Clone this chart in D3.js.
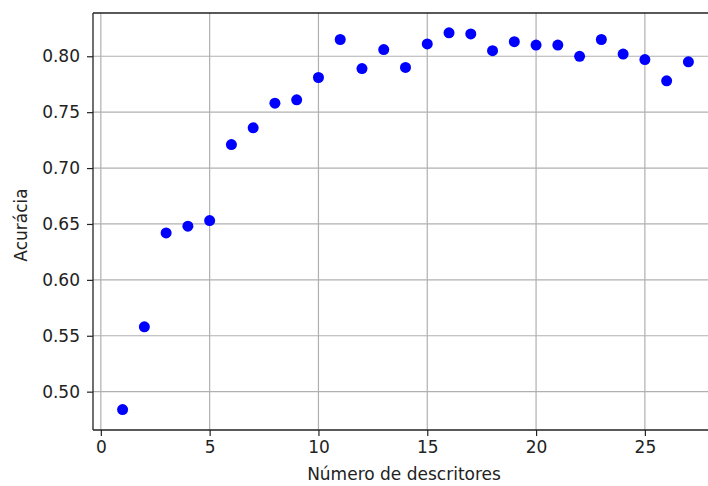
<!DOCTYPE html>
<html>
<head>
<meta charset="utf-8">
<script src="https://d3js.org/d3.v7.min.js"></script>
<style>
  body { margin: 0; background: #fff; }
  text { font-family: "DejaVu Sans", sans-serif; }
</style>
</head>
<body>
<div id="chart"></div>
<script>
// data
var numDescritores = d3.range(1, 28);
var acuracia = [0.484, 0.558, 0.642, 0.648, 0.653, 0.721, 0.736, 0.758, 0.761, 0.781,
                0.815, 0.789, 0.806, 0.790, 0.811, 0.821, 0.820, 0.805, 0.813, 0.810,
                0.810, 0.800, 0.815, 0.802, 0.797, 0.778, 0.795];
var xTicks = [0, 5, 10, 15, 20, 25];
var yTicks = [0.50, 0.55, 0.60, 0.65, 0.70, 0.75, 0.80];

var svgWidth = 708;
var svgHeight = 486;
var plotLeft = 93, plotTop = 13, plotBottom = 430, plotRight = 718;

var svg = d3.select("#chart")
  .append("svg")
  .attr("width", svgWidth)
  .attr("height", svgHeight);

var x = d3.scaleLinear().domain([-0.36, 28.36]).range([plotLeft, plotRight]);
var y = d3.scaleLinear().domain([0.4657, 0.8387]).range([plotBottom, plotTop]);

svg.append("clipPath").attr("id", "clip")
  .append("rect")
  .attr("x", plotLeft).attr("y", plotTop)
  .attr("width", plotRight - plotLeft).attr("height", plotBottom - plotTop);

var plot = svg.append("g").attr("clip-path", "url(#clip)");

// grid
plot.selectAll(".vgrid")
  .data(xTicks)
  .enter().append("line")
  .attr("x1", d => x(d)).attr("x2", d => x(d))
  .attr("y1", plotTop).attr("y2", plotBottom)
  .attr("stroke", "#b0b0b0").attr("stroke-width", 1.2);

plot.selectAll(".hgrid")
  .data(yTicks)
  .enter().append("line")
  .attr("x1", plotLeft).attr("x2", plotRight)
  .attr("y1", d => y(d)).attr("y2", d => y(d))
  .attr("stroke", "#b0b0b0").attr("stroke-width", 1.2);

// points
plot.selectAll("circle")
  .data(numDescritores)
  .enter().append("circle")
  .attr("cx", d => x(d))
  .attr("cy", (d, i) => y(acuracia[i]))
  .attr("r", 5.5)
  .attr("fill", "#0000ff");

// axes
var bottomAxis = d3.axisBottom(x).tickValues(xTicks).tickSize(6).tickPadding(5)
  .tickFormat(d3.format("d"));
var leftAxis = d3.axisLeft(y).tickValues(yTicks).tickSize(6).tickPadding(7)
  .tickFormat(d3.format(".2f"));

var gx = svg.append("g")
  .attr("transform", `translate(0, ${plotBottom})`)
  .call(bottomAxis);
var gy = svg.append("g")
  .attr("transform", `translate(${plotLeft}, 0)`)
  .call(leftAxis);

[gx, gy].forEach(function(g) {
  g.select(".domain").remove();
  g.selectAll(".tick line").attr("stroke", "#222").attr("stroke-width", 1.2);
  g.selectAll(".tick text")
    .attr("fill", "#222")
    .style("font-size", "17px")
    .style("font-family", "DejaVu Sans, sans-serif");
});

// spines
svg.append("line").attr("x1", plotLeft).attr("x2", plotLeft).attr("y1", plotTop).attr("y2", plotBottom)
  .attr("stroke", "#222").attr("stroke-width", 1.3);
svg.append("line").attr("x1", plotLeft).attr("x2", svgWidth).attr("y1", plotBottom).attr("y2", plotBottom)
  .attr("stroke", "#222").attr("stroke-width", 1.3);
svg.append("line").attr("x1", plotLeft).attr("x2", svgWidth).attr("y1", plotTop).attr("y2", plotTop)
  .attr("stroke", "#222").attr("stroke-width", 1.3);

// axis labels
svg.append("text")
  .attr("x", 404)
  .attr("y", 480)
  .attr("text-anchor", "middle")
  .attr("fill", "#222")
  .style("font-size", "17px")
  .text("Número de descritores");

svg.append("text")
  .attr("transform", `translate(27, 225) rotate(-90)`)
  .attr("text-anchor", "middle")
  .attr("fill", "#222")
  .style("font-size", "17px")
  .text("Acurácia");
</script>
</body>
</html>
